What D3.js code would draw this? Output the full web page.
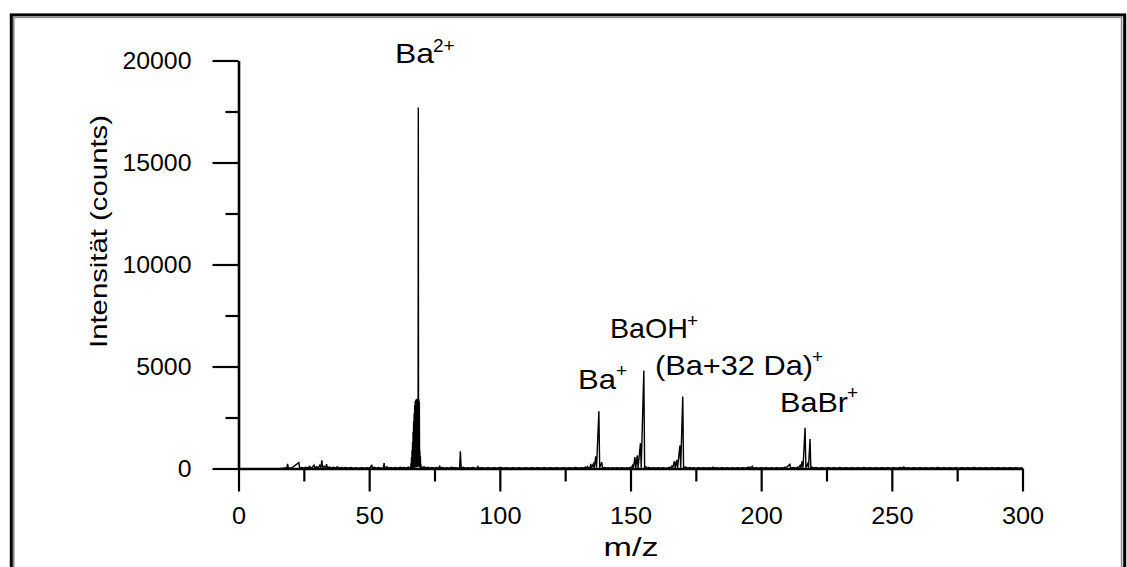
<!DOCTYPE html>
<html><head><meta charset="utf-8">
<script src="https://cdn.jsdelivr.net/npm/d3@7"></script>
<style>
html,body{margin:0;padding:0;background:#fff;}
svg{display:block;}
text{font-family:"Liberation Sans",Arial,Helvetica,sans-serif;fill:#000;}
</style></head><body>
<svg id="chart" width="1127" height="567"></svg>
<script>
// ---- data (m/z, counts) ----
const lowMass = [[16,0],[17,10],[18,25],[18.5,15],[18.8,230],[19.1,10],[19.6,30],[20.3,20],[23.1,290],[23.4,15],[24.2,50],[25,20],[25.8,60],[26.4,15],[27.2,110],[27.6,25],[28.3,70],[28.9,170],[29.2,30],[29.9,90],[30.5,20],[31.1,160],[31.5,40],[31.9,400],[32.2,50],[32.8,110],[33.3,30],[33.7,210],[34,25],[34.8,70],[35.5,20],[36.3,60],[37,20],[37.8,80],[38.5,25],[39.3,50],[40.2,15],[41,45],[42,20],[43,50],[44,15],[45,35],[46,20],[47.2,40],[48.3,15],[49.2,35],[50.2,20],[50.7,110],[51,150],[51.3,25],[52,60],[52.8,20],[53.6,45],[54.5,15],[55.4,25],[55.7,260],[56,25],[56.8,80],[57.5,20],[58.4,50],[59.2,20],[60.1,45],[61,15],[61.9,60],[62.7,25],[63.5,50],[64.3,20],[65,70],[65.5,30]];
const ba2Cluster = [[65.9,30],[66.0,250],[66.1,20],[66.2,550],[66.3,30],[66.4,900],[66.5,20],[66.6,1300],[66.7,40],[66.8,1800],[66.9,30],[67.0,2300],[67.1,50],[67.2,2700],[67.3,40],[67.4,3100],[67.5,60],[67.6,3300],[67.7,50],[67.8,3350],[67.9,80],[68.0,3400],[68.1,60],[68.2,3380],[68.3,90],[68.4,3420],[68.5,70],[68.6,3400],[68.7,100],[68.8,17700],[68.9,120],[69.0,3400],[69.1,80],[69.2,3300],[69.3,60],[69.4,900],[69.5,40],[69.6,600],[69.7,30],[69.8,200],[69.9,20]];
const midMass = [[70.3,40],[71,90],[71.6,20],[72.4,60],[73.2,20],[74,50],[74.9,15],[75.7,45],[76.5,20],[77,110],[77.3,20],[78.1,50],[79,20],[79.8,40],[80.7,15],[81.5,60],[82.4,25],[83.2,40],[84,20],[84.6,30],[84.9,850],[85.2,30],[86,60],[86.8,20],[87.7,40],[88.6,20],[89.5,50],[90.4,20],[91.3,30],[91.6,100],[91.9,20],[93,40],[94.2,15],[95.4,35],[96.6,15],[97.8,40],[99,20],[100.2,45],[101.4,15],[102.6,35],[103.8,20],[105,40],[106.2,15],[107.4,35],[108.6,20],[109.8,40],[111,15],[112.2,35],[113.4,20],[114.6,40],[115.8,15],[117,35],[118.2,20],[119.4,40],[120.6,15],[121.8,35],[123,20],[124.2,40],[125.4,15],[126.6,35],[127.8,20],[129,45],[130.2,15],[131.4,40],[132.3,20],[132.7,70],[133.1,20]];
const baCluster = [[133.6,100],[133.9,20],[134.5,40],[134.8,230],[135.1,30],[135.8,230],[136.1,30],[136.7,600],[137.0,40],[137.9,2800],[138.2,40],[139.0,310],[139.3,20],[140,50],[140.8,20],[141.6,40],[142.4,15],[143.2,35],[144,20],[144.9,40],[145.8,15],[146.7,35],[147.6,20],[148.5,40],[149.4,20],[150,60],[150.3,20]];
const baohCluster = [[150.8,150],[151.1,20],[151.7,560],[152.0,30],[152.6,640],[152.9,30],[153.8,1240],[154.1,40],[155.1,4800],[155.4,60],[155.9,90],[156.2,20],[157,45],[157.9,15],[158.8,40],[159.7,20],[160.6,35],[161.5,15],[162.4,40],[163.3,20],[164.2,30],[165,60],[165.3,20]];
const ba32Cluster = [[165.8,115],[166.1,20],[166.8,360],[167.1,30],[167.7,425],[168.0,30],[168.9,1130],[169.2,40],[170.0,3530],[170.3,50],[171.2,70],[171.5,20],[172.8,50],[173.1,15],[174,40],[175,15],[176,35],[177,20],[178,40],[179,15],[180,35],[181,20],[181.7,70],[182,20],[183,40],[184,15],[185,35],[186,20],[187,40],[188,15],[189,35],[190,20],[191,40],[192,15],[193,35],[194,20],[195.4,70],[195.7,20],[196.6,110],[196.9,20],[198,40],[199,15],[200,35],[201,20],[202,40],[203,15],[204,35],[205,20],[206,40],[207,20],[208,35],[208.5,20]];
const babrCluster = [[209.1,65],[209.4,20],[211.0,200],[211.3,20],[212.5,50],[213.2,20],[214.0,65],[214.3,20],[214.9,150],[215.2,30],[215.7,360],[216.0,40],[216.8,2000],[217.1,40],[217.8,230],[218.1,40],[218.7,1450],[219.0,40],[219.6,60],[220,20]];
const highMass = [[221,45],[222,15],[223.2,35],[224.3,20],[225.5,40],[226.6,15],[227.8,35],[229,20],[230.1,45],[231.3,15],[232.4,35],[233.6,20],[234.7,40],[235.9,15],[237,35],[238.2,20],[239.3,45],[240.5,15],[241.6,35],[242.8,20],[243.9,40],[245.1,15],[246.2,35],[247.4,20],[248.5,40],[249.7,15],[250.8,35],[252,20],[253.1,45],[254.2,20],[254.6,70],[255,20],[256.1,35],[257.3,15],[258.4,40],[259.6,20],[260.7,35],[261.9,15],[263,40],[264.2,20],[265.3,35],[266.5,15],[267.6,45],[268.8,20],[269.9,35],[271.1,15],[272.2,40],[273.4,20],[274.5,35],[275.7,15],[276.8,40],[278,20],[279.1,35],[280.3,15],[281.4,45],[282.6,20],[283.7,35],[284.9,15],[286,40],[287.2,20],[288.3,35],[289.5,15],[290.6,40],[291.8,20],[292.9,35],[294.1,15],[295.2,40],[296.4,20],[297.5,35],[298.7,15],[300,30]];

const xMajorTicks = [0, 50, 100, 150, 200, 250, 300];
const xMinorTicks = [25, 75, 125, 175, 225, 275];
const yMajorTicks = [0, 5000, 10000, 15000, 20000];
const yMinorTicks = [2500, 7500, 12500, 17500];

const ionNames   = ["Ba", "Ba", "BaOH", "(Ba+32 Da)", "BaBr"];
const ionCharges = ["2+", "+", "+", "+", "+"];

const xTitle = "m/z";
const yTitle = "Intensität (counts)";

// ---- drawing ----
const W = 1127, H = 567;
const FONT = '"Liberation Sans",Arial,Helvetica,sans-serif';
const svg = d3.select("#chart");
svg.append("rect").attr("width", W).attr("height", H).attr("fill", "#fff");

// window-like double frame
svg.append("rect").attr("x", 11.3).attr("y", 14.9).attr("width", 1124.7 - 11.3).attr("height", 700)
  .attr("fill", "none").attr("stroke", "#000").attr("stroke-width", 3);
svg.append("rect").attr("x", 13.8).attr("y", 17.4).attr("width", 1121.6 - 13.8).attr("height", 700)
  .attr("fill", "none").attr("stroke", "#8a8a8a").attr("stroke-width", 1.6);

const x = d3.scaleLinear().domain([0, 300]).range([238.5, 1022.5]);
const y = d3.scaleLinear().domain([0, 20000]).range([468.5, 60.5]);

// minor ticks
const gxm = svg.append("g").attr("transform", `translate(0,${y(0)})`)
  .call(d3.axisBottom(x).tickValues(xMinorTicks).tickSize(13).tickSizeOuter(0).tickFormat(""));
gxm.select(".domain").remove();
const gym = svg.append("g").attr("transform", `translate(${x(0)},0)`)
  .call(d3.axisLeft(y).tickValues(yMinorTicks).tickSize(13).tickSizeOuter(0).tickFormat(""));
gym.select(".domain").remove();

// major axes
const gx = svg.append("g").attr("transform", `translate(0,${y(0)})`)
  .call(d3.axisBottom(x).tickValues(xMajorTicks).tickSize(23).tickSizeOuter(0).tickFormat(d3.format("d")));
const gy = svg.append("g").attr("transform", `translate(${x(0)},0)`)
  .call(d3.axisLeft(y).tickValues(yMajorTicks).tickSize(26).tickSizeOuter(0).tickFormat(d3.format("d")));

[gx, gy, gxm, gym].forEach(g => {
  g.selectAll("line").attr("stroke", "#000").attr("stroke-width", 2.2);
  g.selectAll(".domain").attr("stroke", "#000").attr("stroke-width", 2.6);
});
function widen(sel, k) {
  sel.each(function () {
    const w = this.getComputedTextLength();
    d3.select(this).attr("textLength", w * k).attr("lengthAdjust", "spacingAndGlyphs");
  });
}
gx.selectAll("text").attr("y", 55).attr("dy", 0)
  .style("font-size", "23px").style("font-family", FONT).attr("fill", "#000");
gy.selectAll("text").attr("x", -47).attr("dy", "0.36em")
  .style("font-size", "23px").style("font-family", FONT).attr("fill", "#000");
widen(gx.selectAll("text"), 1.1);
widen(gy.selectAll("text"), 1.08);

// spectrum
const spectrum = [].concat(lowMass, ba2Cluster, midMass, baCluster, baohCluster, ba32Cluster, babrCluster, highMass);
svg.append("path").datum(spectrum)
  .attr("fill", "none").attr("stroke", "#000").attr("stroke-width", 1.4).attr("stroke-linejoin", "miter")
  .attr("d", d3.line().x(d => x(d[0])).y(d => y(d[1])));

// axis titles
svg.append("text").attr("transform", "translate(106.5,231.5) rotate(-90)")
  .attr("text-anchor", "middle").style("font-size", "24px")
  .attr("textLength", 233).attr("lengthAdjust", "spacingAndGlyphs").text(yTitle);
svg.append("text").attr("x", 631).attr("y", 556).attr("text-anchor", "middle")
  .style("font-size", "26px").attr("textLength", 55).attr("lengthAdjust", "spacingAndGlyphs").text(xTitle);

// ion annotations (name start/baseline, name width, charge start/baseline)
const ionLayout = [
  {nx: 395, ny: 63,  nw: 39,  cx: 433, cy: 52},
  {nx: 578, ny: 389, nw: 38,  cx: 616, cy: 377},
  {nx: 610, ny: 338, nw: 78,  cx: 687, cy: 327},
  {nx: 655, ny: 375, nw: 158, cx: 812, cy: 363},
  {nx: 780, ny: 412, nw: 68,  cx: 847, cy: 399}
];
ionNames.forEach((n, i) => {
  const p = ionLayout[i];
  svg.append("text").attr("x", p.nx).attr("y", p.ny).style("font-size", "28px")
    .attr("textLength", p.nw).attr("lengthAdjust", "spacingAndGlyphs").text(n);
  svg.append("text").attr("x", p.cx).attr("y", p.cy).style("font-size", "19px").text(ionCharges[i]);
});
</script>
</body></html>
